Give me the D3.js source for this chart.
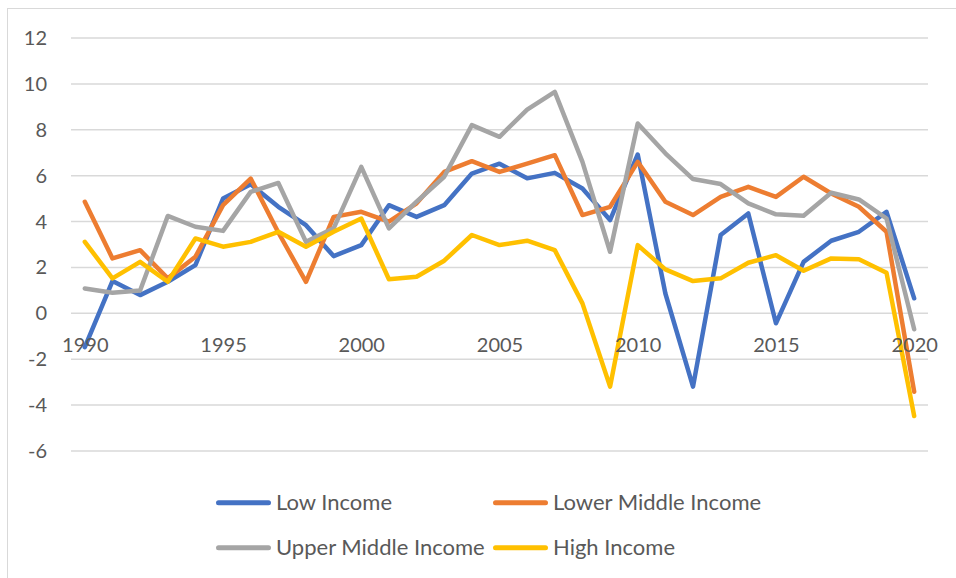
<!DOCTYPE html>
<html>
<head>
<meta charset="utf-8">
<script src="https://cdn.jsdelivr.net/npm/d3@7"></script>
<style>
html,body{margin:0;padding:0;background:#fff;}
svg{display:block;}
text{font-family:Lato,"Open Sans",sans-serif;fill:#595959;}
</style>
</head>
<body>
<svg id="chart" width="956" height="578"></svg>
<script>
const years = d3.range(1990, 2021);
const lowIncome = [-1.5,1.38,0.77,1.35,2.08,4.98,5.6,4.62,3.82,2.47,2.95,4.69,4.18,4.69,6.07,6.5,5.86,6.1,5.42,4.04,6.9,0.84,-3.22,3.39,4.33,-0.46,2.22,3.14,3.53,4.4,0.63];
const lowerMiddleIncome = [4.84,2.37,2.73,1.5,2.44,4.69,5.85,3.5,1.35,4.18,4.4,3.97,4.77,6.14,6.61,6.14,6.5,6.87,4.26,4.62,6.58,4.84,4.26,5.05,5.49,5.05,5.93,5.2,4.62,3.53,-3.44];
const upperMiddleIncome = [1.06,0.87,0.97,4.22,3.75,3.57,5.27,5.66,3.09,3.68,6.36,3.68,4.84,5.93,8.18,7.67,8.86,9.63,6.58,2.66,8.25,6.95,5.83,5.61,4.77,4.29,4.23,5.23,4.94,4.11,-0.72];
const highIncome = [3.09,1.5,2.22,1.35,3.24,2.88,3.09,3.53,2.88,3.53,4.11,1.46,1.57,2.27,3.39,2.95,3.14,2.73,0.41,-3.22,2.95,1.89,1.38,1.5,2.18,2.51,1.83,2.37,2.33,1.74,-4.5];
const yTicks = [-6,-4,-2,0,2,4,6,8,10,12];
const xTickLabels = [1990,1995,2000,2005,2010,2015,2020];
const seriesNames = ["Low Income","Lower Middle Income","Upper Middle Income","High Income"];
const seriesValues = [lowIncome, lowerMiddleIncome, upperMiddleIncome, highIncome];
const colors = ["#4472C4","#ED7D31","#A5A5A5","#FFC000"];

const svg = d3.select("#chart");
svg.append("rect").attr("x",7.5).attr("y",8.5).attr("width",1000).attr("height",1000)
  .attr("fill","none").attr("stroke","#D9D9D9").attr("stroke-width",1);

const plotLeft = 71, plotRight = 928;
const x = d3.scaleBand().domain(years).range([plotLeft, plotRight]);
const xc = d => x(d) + x.bandwidth()/2;
const y = d3.scaleLinear().domain([-6, 12]).range([450.4, 37.5]);

const grid = d3.axisLeft(y).tickValues(yTicks).tickSize(-(plotRight-plotLeft)).tickFormat("");
svg.append("g").attr("transform",`translate(${plotLeft},0)`).call(grid)
  .call(g=>g.select(".domain").remove())
  .call(g=>g.selectAll("line").attr("stroke","#D9D9D9").attr("stroke-width",1.5));

const yAxis = d3.axisLeft(y).tickValues(yTicks).tickSize(0).tickPadding(0).tickFormat(d=>d<0?"-"+Math.abs(d):d);
svg.append("g").attr("transform",`translate(47,0)`).call(yAxis)
  .call(g=>g.select(".domain").remove())
  .call(g=>g.selectAll("text").attr("font-size",20).attr("font-family","Lato").attr("fill","#595959").attr("dy","0.35em"));

const line = d3.line().x((d,i)=>xc(years[i])).y(d=>y(d));
seriesValues.forEach((vals,i)=>{
  svg.append("path").datum(vals).attr("d",line).attr("fill","none")
    .attr("stroke",colors[i]).attr("stroke-width",4.5)
    .attr("stroke-linejoin","round").attr("stroke-linecap","round");
});

const xAxis = d3.axisBottom(d3.scalePoint().domain(years).range([xc(1990), xc(2020)]))
  .tickValues(xTickLabels).tickSize(0).tickPadding(0);
svg.append("g").attr("transform",`translate(0,${y(0)+32})`).call(xAxis)
  .call(g=>g.select(".domain").remove())
  .call(g=>g.selectAll("text").attr("font-size",20).attr("font-family","Lato").attr("fill","#595959").attr("dy","0.35em"));

const legendPos = [[216,502.7],[493,502.7],[216,547.7],[493,547.7]];
seriesNames.forEach((name,i)=>{
  const [lx,ly] = legendPos[i];
  const g = svg.append("g");
  g.append("line").attr("x1",lx+2.5).attr("x2",lx+52.5).attr("y1",ly).attr("y2",ly)
    .attr("stroke",colors[i]).attr("stroke-width",5).attr("stroke-linecap","round");
  g.append("text").attr("x",lx+60).attr("y",ly).attr("dy","0.35em")
    .attr("font-size",22).text(name);
});
</script>
</body>
</html>
